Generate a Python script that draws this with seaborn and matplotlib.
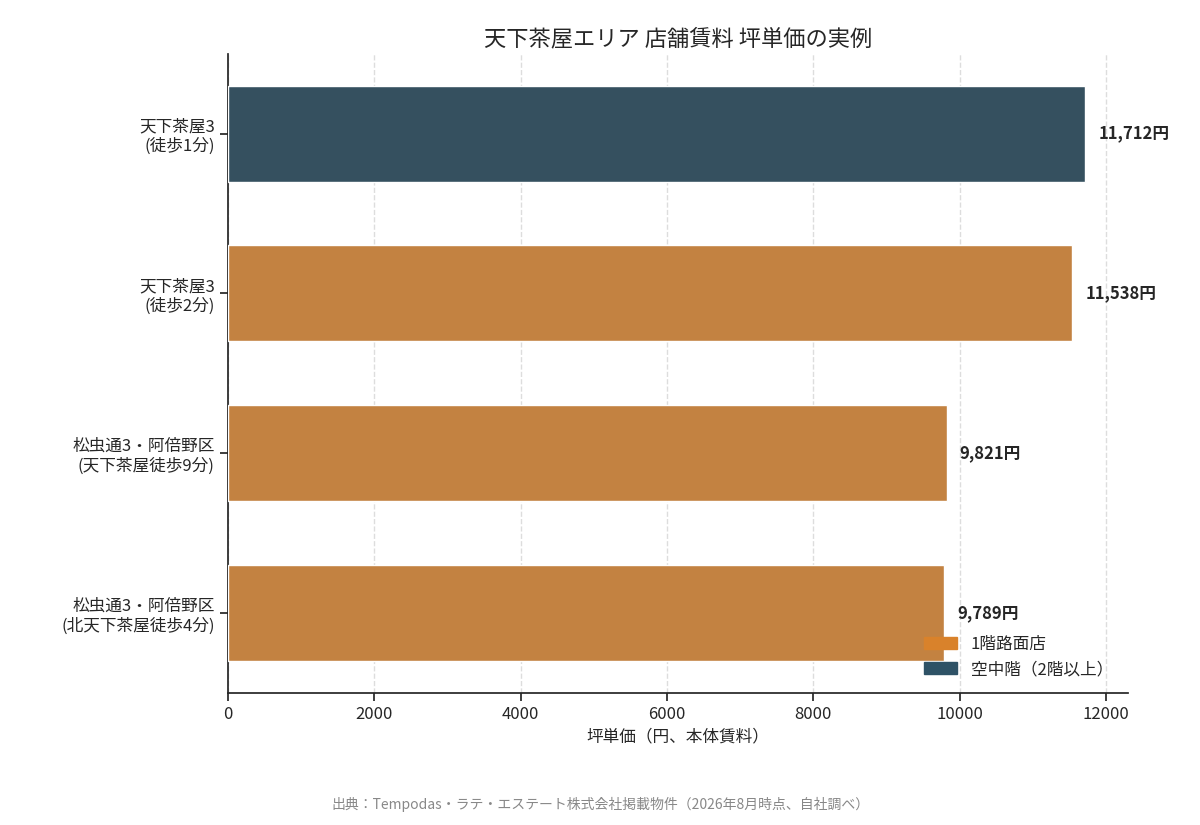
import matplotlib
matplotlib.use("Agg")
import matplotlib.pyplot as plt
import seaborn as sns
import pandas as pd
from matplotlib.patches import Patch

labels = ["天下茶屋3\n(徒歩1分)", "天下茶屋3\n(徒歩2分)", "松虫通3・阿倍野区\n(天下茶屋徒歩9分)", "松虫通3・阿倍野区\n(北天下茶屋徒歩4分)"]
values = [11712, 11538, 9821, 9789]
kinds = ["空中階", "1階路面店", "1階路面店", "1階路面店"]
colors = {"1階路面店": "#D9822B", "空中階": "#2E5266"}

sns.set_theme(style="white")
plt.rcParams['font.family'] = ['Noto Sans CJK JP', 'DejaVu Sans']

df = pd.DataFrame({"label": labels, "value": values, "kind": kinds})
fig, ax = plt.subplots(figsize=(12, 8.25), dpi=100)
sns.barplot(data=df, y="label", x="value", hue="kind", palette=colors, dodge=False, width=0.6, ax=ax, legend=False, zorder=3)
ax.grid(axis="x", linestyle="--", color="#dddddd", zorder=0)
ax.set_axisbelow(True)
for i, v in enumerate(values):
    ax.text(v + 180, i, f"{v:,}円", va="center", ha="left", fontsize=12, fontweight="bold")
ax.set_xlim(0, 12300)
ax.set_ylabel("")
ax.set_xlabel("坪単価（円、本体賃料）", fontsize=12)
ax.set_title("天下茶屋エリア 店舗賃料 坪単価の実例", fontsize=16)
ax.tick_params(axis="both", labelsize=12, left=True, bottom=True)
sns.despine(ax=ax)
ax.legend(handles=[Patch(color=colors["1階路面店"], label="1階路面店"), Patch(color=colors["空中階"], label="空中階（2階以上）")],
          loc="lower right", frameon=False, fontsize=12)
fig.text(0.5, 0.02, "出典：Tempodas・ラテ・エステート株式会社掲載物件（2026年8月時点、自社調べ）", ha="center", fontsize=10, color="#888888")
fig.subplots_adjust(left=0.19, right=0.94, top=0.935, bottom=0.16)
fig.savefig("out.png")
